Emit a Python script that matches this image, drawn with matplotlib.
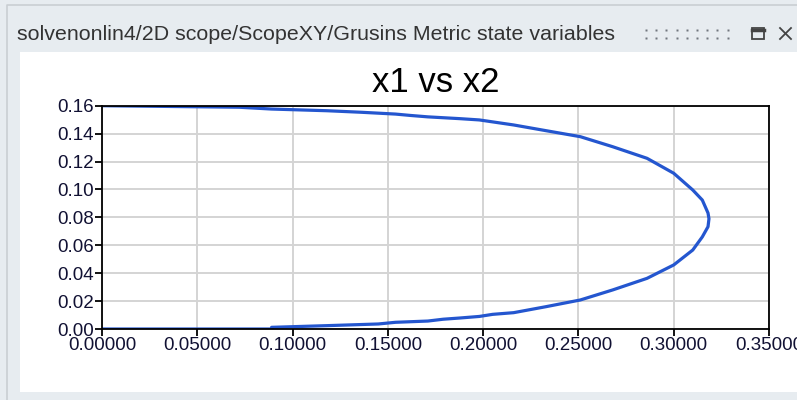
import matplotlib
matplotlib.use("Agg")
import matplotlib.pyplot as plt
from matplotlib.patches import Rectangle
import numpy as np

# data (x2 on horizontal axis, x1 on vertical axis)
x_vals = [0.000, 0.089, 0.089, 0.118, 0.145, 0.154, 0.171, 0.179, 0.188, 0.198,
          0.205, 0.216, 0.233, 0.251, 0.268, 0.286, 0.300, 0.310, 0.315, 0.318,
          0.3185, 0.318, 0.315, 0.310, 0.300, 0.286, 0.268, 0.251, 0.233, 0.216,
          0.198, 0.188, 0.171, 0.162, 0.154, 0.136, 0.118, 0.089, 0.072, 0.000]
y_vals = [0.0000, 0.0000, 0.0012, 0.0024, 0.0036, 0.0048, 0.0057, 0.0070, 0.0079, 0.0090,
          0.0105, 0.0117, 0.0160, 0.0208, 0.0280, 0.0363, 0.0459, 0.0566, 0.0660, 0.0733,
          0.0790, 0.0831, 0.0924, 0.0996, 0.1116, 0.1223, 0.1306, 0.1378, 0.1421, 0.1462,
          0.1498, 0.1507, 0.1520, 0.1530, 0.1540, 0.1553, 0.1564, 0.1576, 0.1589, 0.1600]

x_ticks = np.arange(0, 0.3501, 0.05)
y_ticks = np.arange(0, 0.1601, 0.02)

window_title = "solvenonlin4/2D scope/ScopeXY/Grusins Metric state variables"
plot_title = "x1 vs x2"

W, H = 797, 400
fig = plt.figure(figsize=(W / 100, H / 100), dpi=100)
fig.patch.set_facecolor("#e7ecf0")

# window chrome drawn in pixel coordinates
bg = fig.add_axes([0, 0, 1, 1])
bg.set_xlim(0, W)
bg.set_ylim(H, 0)
bg.axis("off")
bg.plot([7, 7, W], [H, 4.5, 4.5], color="#c9ced3", lw=1.2)
bg.add_patch(Rectangle((20, 52), W - 20, 340, facecolor="white", edgecolor="none"))
bg.text(17, 34, window_title, fontsize=15.4, family="Liberation Sans", color="#333333",
        va="center", ha="left")
for cx in np.arange(646, 737, 10.2):
    for cy in (29.5, 37.5):
        bg.plot(cx, cy, "s", ms=2.0, color="#70767d", mec="none")
bg.add_patch(Rectangle((752, 28), 12, 11, facecolor="none", edgecolor="#444444", lw=1.3))
bg.plot([752, 764], [29.5, 29.5], color="#444444", lw=2.5)
bg.plot([780, 791], [28, 39], color="#444444", lw=1.3)
bg.plot([780, 791], [39, 28], color="#444444", lw=1.3)

ax = fig.add_axes([102 / W, 71 / H, 667 / W, 223.3 / H])
ax.plot(x_vals, y_vals, color="#2456cf", lw=2.3, solid_capstyle="butt")
ax.set_xlim(0, 0.35)
ax.set_ylim(0, 0.16)
ax.set_xticks(x_ticks)
ax.set_yticks(y_ticks)
ax.set_xticklabels([f"{v:.5f}" for v in x_ticks])
ax.set_yticklabels([f"{v:.2f}" for v in y_ticks])
ax.grid(True, color="#d4d4d4", lw=1.4)
ax.set_axisbelow(True)
for s in ax.spines.values():
    s.set_color("black")
    s.set_linewidth(1.3)
ax.tick_params(direction="out", length=5, width=1.3, pad=1,
               labelsize=13.5, colors="black")
for lbl in ax.get_xticklabels() + ax.get_yticklabels():
    lbl.set_family("Liberation Sans")
    lbl.set_color("#111133")
ax.set_title(plot_title, fontsize=25, family="Liberation Sans", pad=10)

fig.savefig("out.png", dpi=100)
